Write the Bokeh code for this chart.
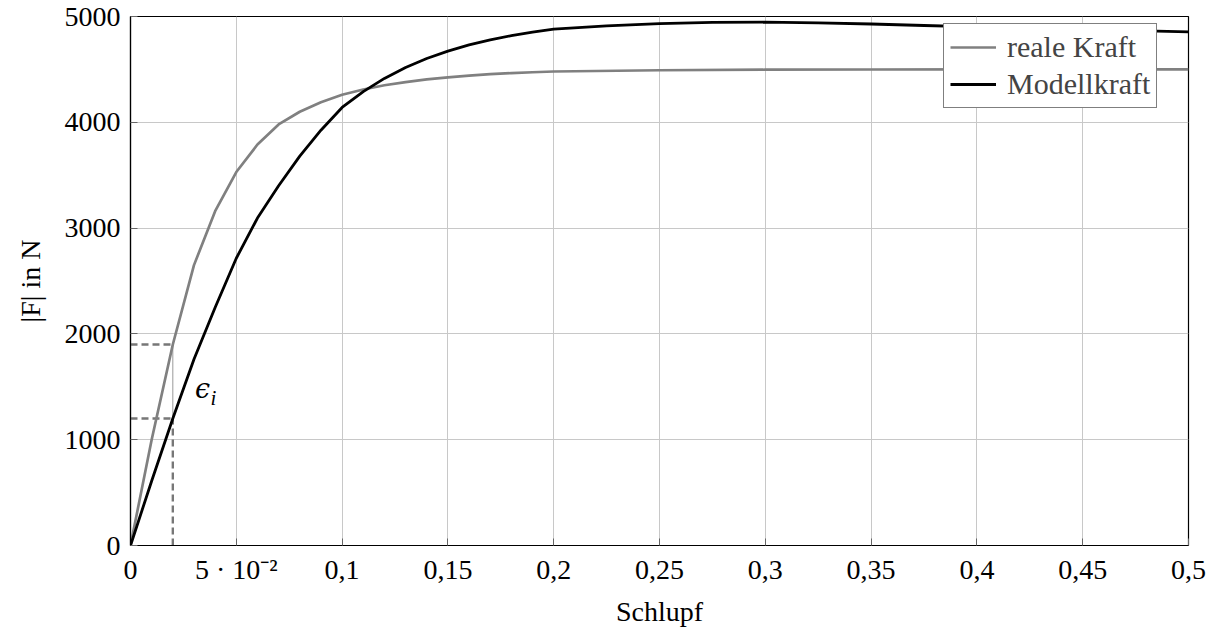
from bokeh.plotting import figure
from bokeh.models import FixedTicker, Legend, LegendItem, Range1d
from bokeh.core.properties import value
from bokeh.embed import file_html
from bokeh.resources import INLINE

# ---- data ----
real_x = [0, 0.01, 0.02, 0.03, 0.04, 0.05, 0.06, 0.07, 0.08, 0.09, 0.10,
          0.11, 0.12, 0.13, 0.14, 0.15, 0.16, 0.17, 0.18, 0.19, 0.20,
          0.25, 0.30, 0.35, 0.40, 0.45, 0.50]
real_force = [0, 1000, 1900, 2650, 3160, 3530, 3790, 3980, 4100, 4190, 4260,
              4310, 4350, 4380, 4405, 4425, 4442, 4455, 4465, 4473, 4480,
              4492, 4497, 4499, 4500, 4500, 4500]

model_x = [0, 0.01, 0.02, 0.03, 0.04, 0.05, 0.06, 0.07, 0.08, 0.09, 0.10,
           0.11, 0.12, 0.13, 0.14, 0.15, 0.16, 0.17, 0.18, 0.19, 0.20,
           0.225, 0.25, 0.275, 0.30, 0.325, 0.35, 0.375, 0.40, 0.425, 0.45,
           0.475, 0.50]
model_force = [0, 610, 1200, 1760, 2250, 2715, 3095, 3400, 3680, 3925, 4140,
               4290, 4415, 4518, 4603, 4673, 4731, 4779, 4819, 4852, 4880,
               4912, 4933, 4944, 4946, 4940, 4929, 4915, 4901, 4889, 4878,
               4866, 4855]

eps_x = 0.02          # sample point of the residual
eps_real = 1900       # real force at that point
eps_model = 1200      # model force at that point

x_ticks = [0, 0.05, 0.1, 0.15, 0.2, 0.25, 0.3, 0.35, 0.4, 0.45, 0.5]
x_tick_labels = ["0", "5 · 10⁻²", "0,1", "0,15", "0,2", "0,25", "0,3",
                 "0,35", "0,4", "0,45", "0,5"]
y_ticks = [0, 1000, 2000, 3000, 4000, 5000]

FONT = "'Liberation Serif', 'Times New Roman', serif"
FS = "28px"

p = figure(width=1215, height=629, output_backend="svg", toolbar_location=None,
           x_range=Range1d(0, 0.5), y_range=Range1d(0, 5000),
           min_border_left=130, min_border_right=27,
           min_border_top=16, min_border_bottom=84)
p.background_fill_color = "white"
p.border_fill_color = "white"
p.outline_line_color = "black"
p.outline_line_width = 1.2

# axes
p.xaxis.ticker = FixedTicker(ticks=x_ticks)
p.yaxis.ticker = FixedTicker(ticks=y_ticks)
p.xaxis.major_label_overrides = {t: l for t, l in zip(x_ticks, x_tick_labels)}
p.yaxis.major_label_overrides = {t: str(t) for t in y_ticks}
for ax in (p.xaxis, p.yaxis):
    ax.axis_line_color = "black"
    ax.axis_line_width = 1.2
    ax.major_tick_in = 7
    ax.major_tick_out = 0
    ax.major_tick_line_color = "#666666"
    ax.minor_tick_line_color = None
    ax.major_label_text_font = FONT
    ax.major_label_text_font_size = FS
    ax.major_label_text_color = "black"
    ax.axis_label_text_font = FONT
    ax.axis_label_text_font_size = FS
    ax.axis_label_text_font_style = "normal"
    ax.axis_label_text_color = "black"
p.xaxis.axis_label = "Schlupf"
p.yaxis.axis_label = "|F| in N"
p.xaxis.major_label_standoff = 8
p.xaxis.axis_label_standoff = 8
p.yaxis.major_label_standoff = 10
p.yaxis.axis_label_standoff = 16
p.yaxis.major_label_orientation = "horizontal"

p.xgrid.ticker = FixedTicker(ticks=x_ticks)
p.ygrid.ticker = FixedTicker(ticks=y_ticks)
p.grid.grid_line_color = "#c8c8c8"
p.grid.grid_line_width = 1

# guide lines for epsilon
dash_col = "#777777"
p.line([0, eps_x], [eps_real, eps_real], line_color=dash_col, line_width=2.4, line_dash="7 4")
p.line([0, eps_x], [eps_model, eps_model], line_color=dash_col, line_width=2.4, line_dash="7 4")
p.line([eps_x, eps_x], [0, eps_model], line_color=dash_col, line_width=2.4, line_dash="7 4")
p.line([eps_x, eps_x], [eps_model, eps_real], line_color="#9a9a9a", line_width=1)

r_real = p.line(real_x, real_force, line_color="#808080", line_width=2.7)
r_model = p.line(model_x, model_force, line_color="black", line_width=2.8)

# epsilon label
p.text(x=[0.0305], y=[1480], text=["ϵ"], text_font=value("DejaVu Serif"),
       text_font_style="italic", text_font_size="27px",
       text_baseline="middle", text_align="left", text_color="black")
p.text(x=[0.0378], y=[1390], text=["i"], text_font=value(FONT),
       text_font_style="italic", text_font_size="21px",
       text_baseline="middle", text_align="left", text_color="black")

legend = Legend(items=[LegendItem(label="reale Kraft", renderers=[r_real]),
                       LegendItem(label="Modellkraft", renderers=[r_model])],
                location=(813, 437))
legend.border_line_color = "black"
legend.border_line_width = 1
legend.background_fill_color = "white"
legend.background_fill_alpha = 1
legend.label_text_font = FONT
legend.label_text_font_size = "30px"
legend.glyph_width = 46
legend.glyph_height = 30
legend.label_height = 30
legend.label_standoff = 11
legend.spacing = 3
legend.padding = 6
legend.margin = 0
p.add_layout(legend)

open("out.html", "w").write(file_html(p, INLINE))
